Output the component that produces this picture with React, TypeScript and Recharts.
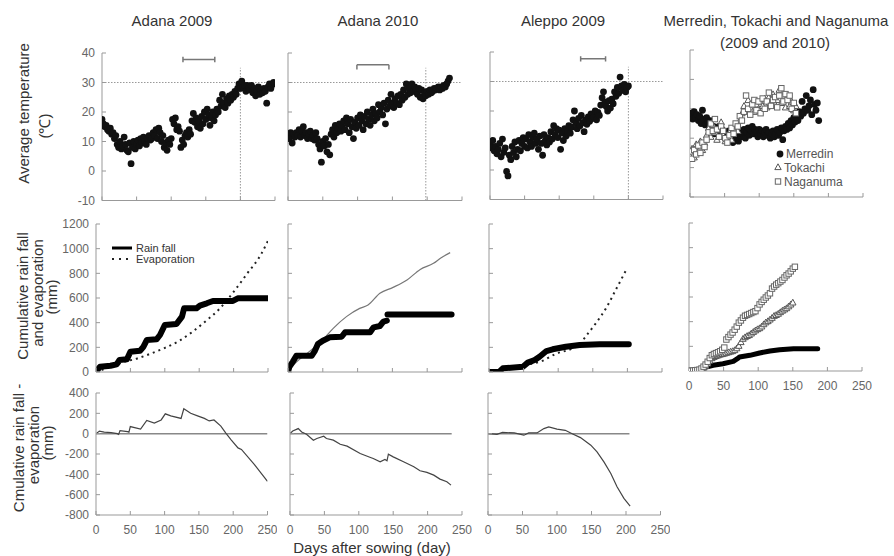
import React from 'react';
import { ComposedChart, Line, Scatter, XAxis, YAxis } from 'recharts';

const FONT = '"Liberation Sans", Arial, Helvetica, sans-serif';

// ---------- tick values ----------
const dayTicks = [0, 50, 100, 150, 200, 250];
const tempTicks = [-10, 0, 10, 20, 30, 40];
const cumTicks = [0, 200, 400, 600, 800, 1000, 1200];
const diffTicks = [-800, -600, -400, -200, 0, 200, 400];

// ---------- daily mean temperature, read every 2 days ----------
const TEMP_STEP = 2;
const adana2009Temp = [
  17.5, 16, 15, 15.5, 14, 13.5, 14.5, 12.5, 13, 11,
  12, 9, 8, 10, 7.5, 8.5, 11.5, 9, 7, 6.5,
  9.5, 2.5, 8, 10, 7.5, 9, 10.5, 8.5, 11, 9.5,
  11.5, 10, 9, 11, 12, 10.5, 11, 13, 12, 14,
  11, 14.5, 13, 10, 12, 8, 9.5, 7, 10.5, 9,
  11, 17.5, 16, 18, 14, 15, 13.5, 8, 10.5, 9,
  12, 13, 11.5, 14, 12.5, 17, 19.5, 16.5, 18, 15,
  17, 14.5, 18.5, 16, 20, 17.5, 21, 19, 15.5, 18,
  20, 17, 19, 21, 20, 24, 22, 26, 23, 21.5,
  24.5, 23, 25.5, 24, 26, 25, 27, 26, 28, 29.5,
  28, 30.5, 28.5, 29, 27, 29, 28, 27.5, 29, 26.5,
  28, 25.5, 27, 28.5, 26, 27.5, 26.5, 28, 27, 23,
  28.5, 29.5, 28, 29.5, 30, 29.5,
];
const adana2010Temp = [
  12, 11, 13, 9.5, 12.5, 11.5, 13, 12, 14, 11.5,
  13.5, 15, 12, 13, 11, 12.5, 13.5, 11, 12, 10.5,
  13, 11, 9, 7.5, 3, 10, 8.5, 11, 6.5, 9,
  5.5, 12.5, 14, 11.5, 15.5, 13, 14.5, 16, 13.5, 15,
  17, 14, 18, 16, 13, 17.5, 15, 11, 16.5, 14.5,
  18, 15.5, 19, 17, 14, 18.5, 16, 20, 17.5, 15.5,
  19, 21, 17, 19.5, 18, 22.5, 20, 21.5, 19, 23,
  16, 21, 24, 22, 26, 23, 21.5, 24.5, 23, 25.5,
  22.5, 26, 24, 27.5, 25, 29.5, 26, 28, 26.5, 29.5,
  27, 28.5, 27.5, 26, 28, 25, 27.5, 24.5, 26.5, 25.5,
  27, 26, 27.5, 26.5, 27, 28, 27.5, 28, 28.5, 27.5,
  28.5, 28, 29, 28.5, 29.5, 30.5, 31.5,
];
const aleppo2009Temp = [
  9, 7.5, 10, 6.5, 8, 5.5, 7, 9, 4.5, 10.5,
  6, 7.5, -0.5, -2, 5, 3.5, 8, 6, 9.5, 4.5,
  7, 10, 6.5, 9, 11, 8, 10.5, 7.5, 12, 9.5,
  8, 11, 12.5, 9, 10.5, 7, 11.5, 9, 5, 12,
  10, 8.5, 11, 9.5, 13, 10.5, 15, 12, 14, 11,
  13.5, 7, 12.5, 10, 14, 11.5, 13, 15, 12.5, 14.5,
  17, 20, 16, 14, 17.5, 15, 18.5, 16, 13, 17,
  15.5, 18, 16.5, 19, 17.5, 18, 20, 17, 19.5, 18.5,
  22, 24.5, 26.5, 23, 21.5, 20, 23.5, 21, 24, 22.5,
  26.5, 25, 28, 26, 31.5, 28.5, 27, 29, 26.5, 28,
  28.5,
];
const merredinTemp = [
  17.5, 18.5, 16.5, 19, 17, 18, 16, 17.5, 15, 19.5,
  16.5, 14.5, 17, 15.5, 13, 16, 12.5, 14, 11.5, 13.5,
  12, 14, 11, 13, 10.5, 12, 11.5, 9.5, 12.5, 10,
  11, 8.5, 12, 10, 11.5, 9, 12.5, 10.5, 11.5, 13,
  10, 12, 13.5, 11, 12.5, 14, 11.5, 13, 12, 10.5,
  13, 11.5, 12.5, 10.5, 12, 13, 11, 12, 10, 11.5,
  12.5, 10.5, 11.5, 13, 11, 12, 13.5, 9.5, 12.5, 14,
  13, 15, 13.5, 16, 14.5, 17, 15.5, 18, 16, 19,
  17.5, 22.5, 18.5, 20, 24.5, 19.5, 21, 23, 18, 26.5,
  21.5, 19.5, 22, 16,
];
// read every 3 days
const JP_STEP = 3;
const tokachiTemp = [
  4, 6.5, 3.5, 8, 5.5, 9, 6, 8.5, 11, 13.5,
  10.5, 14.5, 12, 9.5, 13, 15.5, 11, 9, 10.5, 12,
  9.5, 13, 14.5, 12.5, 16, 18.5, 21, 19.5, 23, 20.5,
  22, 19, 21.5, 20, 22.5, 21, 23.5, 20.5, 24, 22,
  25, 21.5, 23, 26.5, 22, 24.5, 20.5, 23.5, 21, 22.5,
  19.5, 21,
];
const naganumaTemp = [
  5.5, 3, 6, 4.5, 7.5, 5, 8.5, 7, 9.5, 12,
  15, 12.5, 16.5, 13, 10.5, 14, 12.5, 10, 8.5, 11,
  13.5, 11.5, 15, 14, 17.5, 16, 19, 24.5, 20, 18,
  21.5, 23, 19.5, 22.5, 18.5, 23.5, 20, 22.5, 25.5, 21,
  23, 24, 20.5, 24.5, 27, 22.5, 25, 23, 24.5, 20,
  22, 18.5,
];

// ---------- cumulative rain fall / evaporation [day, mm] ----------
const adana2009Rain = [
  [0, 0], [4, 30], [6, 43], [21, 51], [30, 62], [34, 97], [45, 103], [50, 165], [64, 173],
  [69, 205], [74, 260], [88, 265], [93, 300], [100, 381], [117, 389], [125, 449], [128, 516],
  [146, 516], [151, 538], [161, 557], [170, 576], [199, 576], [206, 597], [250, 597],
];
const adana2009Evap = [
  [0, 0], [20, 40], [40, 80], [60, 110], [80, 150], [100, 195], [120, 250], [140, 325],
  [160, 415], [180, 515], [190, 580], [200, 650], [220, 800], [240, 955], [250, 1065],
];
const adana2010RainA = [
  [0, 0], [2, 43], [7, 84], [12, 132], [34, 132], [38, 165], [43, 227], [50, 254], [60, 281],
  [77, 286], [82, 322], [118, 322], [123, 362], [132, 373], [137, 408], [142, 416],
];
const adana2010RainB = [[143, 467], [235, 467]];
const adana2010Evap = [
  [0, 0], [12, 80], [25, 140], [34, 180], [43, 225], [50, 262], [65, 354], [84, 449],
  [103, 516], [115, 543], [132, 638], [151, 686], [171, 746], [190, 832], [209, 881],
  [219, 922], [233, 968],
];
const aleppo2009Rain = [
  [0, 0], [15, 3], [20, 30], [49, 43], [56, 76], [66, 97], [73, 124], [83, 170], [92, 184],
  [111, 205], [131, 219], [160, 225], [202, 226],
];
const aleppo2009Evap = [
  [0, 0], [20, 25], [40, 45], [60, 65], [77, 90], [96, 146], [120, 190], [131, 225],
  [140, 290], [155, 400], [170, 525], [184, 675], [199, 835],
];
const merredinCum = [
  [0, 0], [12, 2], [18, 10], [25, 32], [35, 46], [49, 59], [64, 78], [70, 100], [73, 113],
  [88, 127], [102, 146], [117, 162], [131, 173], [151, 181], [186, 181],
];
const naganumaCum = [
  0, 2, 4, 6, 8, 11, 20, 35, 52, 75,
  105, 128, 138, 145, 152, 160, 172, 190, 255, 275,
  295, 312, 335, 360, 392, 410, 432, 448, 455, 462,
  470, 478, 485, 510, 540, 560, 578, 596, 612, 630,
  668, 685, 700, 712, 725, 738, 758, 776, 790, 808,
  830, 845,
];
const tokachiCum = [
  0, 1, 3, 4, 5, 6, 14, 28, 42, 62,
  85, 105, 115, 122, 128, 134, 138, 142, 148, 153,
  158, 162, 170, 185, 205, 235, 262, 275, 285, 292,
  305, 318, 330, 340, 348, 362, 380, 395, 405, 418,
  432, 448, 455, 465, 478, 490, 500, 510, 525, 540,
  556,
];

// ---------- cumulative rain fall - evaporation [day, mm] ----------
const adana2009Diff = [
  [0, 0], [5, 25], [12, 15], [22, 10], [31, 0], [33, -8], [35, 30], [46, 20], [48, 15],
  [50, 70], [65, 45], [74, 130], [85, 105], [95, 135], [101, 195], [109, 175], [124, 150],
  [128, 245], [138, 200], [148, 175], [158, 150], [165, 125], [172, 135], [182, 75],
  [189, 7], [197, -60], [207, -140], [212, -155], [231, -305], [250, -470],
];
const adana2010Diff = [
  [0, 0], [4, 26], [12, 50], [17, 17], [24, -6], [34, -64], [39, -48], [49, -25], [53, -48],
  [63, -64], [73, -104], [83, -123], [102, -195], [117, -234], [121, -244], [131, -277],
  [138, -254], [141, -267], [143, -202], [150, -228], [165, -277], [180, -326], [189, -365],
  [199, -381], [209, -408], [218, -447], [228, -473], [234, -506],
];
const aleppo2009Diff = [
  [0, 0], [13, -7], [21, 13], [38, 7], [52, -15], [59, 7], [71, 7], [81, 50], [88, 66],
  [100, 44], [112, 33], [122, 0], [134, -39], [149, -113], [158, -179], [168, -277],
  [178, -391], [187, -522], [197, -637], [206, -712],
];

// ---------- annotations ----------
const zeroEnds = { adana2009: 250, adana2010: 235, aleppo2009: 205 };
const harvestDay = { adana2009: 200, adana2010: 198, aleppo2009: 200 };
const brackets = {
  adana2009: { from: 117, to: 163, y: 37.8 },
  adana2010: { from: 99, to: 145, y: 36 },
  aleppo2009: { from: 131, to: 167, y: 37.7 },
};

type Pt = { d: number; v: number };
const fromSeries = (vals: number[], step: number): Pt[] => vals.map((v, i) => ({ d: i * step, v }));
const fromPairs = (pairs: number[][]): Pt[] => pairs.map(([d, v]) => ({ d, v }));

const tickStyle = { fill: '#666', fontSize: 12, fontFamily: FONT };
const EmptyTick = () => <g />;

const BlackDot = (p: any) => <circle cx={p.cx} cy={p.cy} r={3.4} fill="#111" />;
const OpenSquare = (p: any) => (
  <rect x={p.cx - 2.7} y={p.cy - 2.7} width={5.4} height={5.4} fill="#fff" stroke="#666" strokeWidth={1} />
);
const OpenTri = (p: any) => (
  <path d={`M${p.cx},${p.cy - 3.2}L${p.cx + 3.2},${p.cy + 2.6}L${p.cx - 3.2},${p.cy + 2.6}Z`} fill="#fff" stroke="#555" strokeWidth={1} />
);

type Box = [number, number, number, number];

function Panel(props: {
  box: Box;
  yDomain: [number, number];
  yTicks: number[];
  yLabels?: boolean;
  xLabels?: boolean;
  children?: React.ReactNode;
}) {
  const [left, top, w, h] = props.box;
  return (
    <div style={{ position: 'absolute', left: left - 50, top: top - 10 }}>
      <ComposedChart width={w + 60} height={h + 40} margin={{ top: 10, right: 10, bottom: 0, left: 0 }}>
        <XAxis
          dataKey="d"
          type="number"
          domain={[0, 250]}
          ticks={dayTicks}
          interval={0}
          allowDataOverflow
          height={30}
          stroke="#999"
          tickLine={{ stroke: '#999' }}
          tickSize={-4}
          tickMargin={14}
          tick={props.xLabels ? tickStyle : EmptyTick}
        />
        <YAxis
          type="number"
          domain={props.yDomain}
          ticks={props.yTicks}
          interval={0}
          allowDataOverflow
          width={50}
          stroke="#999"
          tickLine={{ stroke: '#999' }}
          tickSize={-4}
          tickMargin={11}
          tick={props.yLabels ? tickStyle : EmptyTick}
        />
        {props.children}
      </ComposedChart>
    </div>
  );
}

function tempAnnotations(key: 'adana2009' | 'adana2010' | 'aleppo2009') {
  const b = brackets[key];
  const down = key === 'adana2010';
  const tk = down ? [b.y, b.y - 1.6] : [b.y + 0.9, b.y - 0.9];
  return [
    <Line key="h30" data={[{ d: 0, v: 30 }, { d: 250, v: 30 }]} dataKey="v" stroke="#999" strokeWidth={1} strokeDasharray="1.5 1.5" dot={false} isAnimationActive={false} />,
    <Line key="hv" data={[{ d: harvestDay[key], v: -10 }, { d: harvestDay[key], v: 35 }]} dataKey="v" stroke="#999" strokeWidth={1} strokeDasharray="1.5 1.5" dot={false} isAnimationActive={false} />,
    <Line key="br" data={[{ d: b.from, v: b.y }, { d: b.to, v: b.y }]} dataKey="v" stroke="#777" strokeWidth={1.5} dot={false} isAnimationActive={false} />,
    <Line key="br1" data={[{ d: b.from, v: tk[0] }, { d: b.from, v: tk[1] }]} dataKey="v" stroke="#777" strokeWidth={1.5} dot={false} isAnimationActive={false} />,
    <Line key="br2" data={[{ d: b.to, v: tk[0] }, { d: b.to, v: tk[1] }]} dataKey="v" stroke="#777" strokeWidth={1.5} dot={false} isAnimationActive={false} />,
  ];
}

const rainLine = (key: string, pairs: number[][]) => (
  <Line key={key} data={fromPairs(pairs)} dataKey="v" type="linear" stroke="#000" strokeWidth={6} strokeLinecap="round" strokeLinejoin="round" dot={false} isAnimationActive={false} />
);
const diffLines = (key: string, pairs: number[][], end: number) => [
  <Line key={key + 'z'} data={[{ d: 0, v: 0 }, { d: end, v: 0 }]} dataKey="v" stroke="#888" strokeWidth={1.5} dot={false} isAnimationActive={false} />,
  <Line key={key} data={fromPairs(pairs)} dataKey="v" type="linear" stroke="#444" strokeWidth={1.2} dot={false} isAnimationActive={false} />,
];

function Rot(p: { x: number; y: number; children: string }) {
  return (
    <text transform={`translate(${p.x},${p.y}) rotate(-90)`} textAnchor="middle" dominantBaseline="central" fontSize={15} fill="#333" fontFamily={FONT}>
      {p.children}
    </text>
  );
}

export default function App() {
  return (
    <div style={{ position: 'absolute', left: 0, top: 0, width: 894, height: 556, background: '#fff', overflow: 'hidden' }}>
      {/* Row 1: temperature */}
      <Panel box={[102, 52.5, 173, 147.5]} yDomain={[-10, 40]} yTicks={tempTicks} yLabels>
        {tempAnnotations('adana2009')}
        <Scatter data={fromSeries(adana2009Temp, TEMP_STEP)} dataKey="v" shape={BlackDot} isAnimationActive={false} />
      </Panel>
      <Panel box={[288, 52.5, 174, 147.5]} yDomain={[-10, 40]} yTicks={tempTicks}>
        {tempAnnotations('adana2010')}
        <Scatter data={fromSeries(adana2010Temp, TEMP_STEP)} dataKey="v" shape={BlackDot} isAnimationActive={false} />
      </Panel>
      <Panel box={[490, 52, 173, 147.5]} yDomain={[-10, 40]} yTicks={tempTicks}>
        {tempAnnotations('aleppo2009')}
        <Scatter data={fromSeries(aleppo2009Temp, TEMP_STEP)} dataKey="v" shape={BlackDot} isAnimationActive={false} />
      </Panel>
      <Panel box={[690, 49.5, 173, 147]} yDomain={[-10, 40]} yTicks={tempTicks}>
        <Scatter data={fromSeries(merredinTemp, TEMP_STEP)} dataKey="v" shape={BlackDot} isAnimationActive={false} />
        <Scatter data={fromSeries(tokachiTemp, JP_STEP)} dataKey="v" shape={OpenTri} isAnimationActive={false} />
        <Scatter data={fromSeries(naganumaTemp, JP_STEP)} dataKey="v" shape={OpenSquare} isAnimationActive={false} />
      </Panel>

      {/* Row 2: cumulative rain fall and evaporation */}
      <Panel box={[96, 224, 172, 148]} yDomain={[0, 1200]} yTicks={cumTicks} yLabels>
        <Line data={fromPairs(adana2009Evap)} dataKey="v" type="monotone" stroke="#222" strokeWidth={2} strokeDasharray="2 4" dot={false} isAnimationActive={false} />
        {rainLine('r', adana2009Rain)}
      </Panel>
      <Panel box={[288, 224, 174, 148]} yDomain={[0, 1200]} yTicks={cumTicks}>
        <Line data={fromPairs(adana2010Evap)} dataKey="v" type="monotone" stroke="#777" strokeWidth={1.2} dot={false} isAnimationActive={false} />
        {rainLine('ra', adana2010RainA)}
        {rainLine('rb', adana2010RainB)}
      </Panel>
      <Panel box={[489, 224, 173, 148]} yDomain={[0, 1200]} yTicks={cumTicks}>
        <Line data={fromPairs(aleppo2009Evap)} dataKey="v" type="monotone" stroke="#222" strokeWidth={2} strokeDasharray="2 4" dot={false} isAnimationActive={false} />
        {rainLine('r', aleppo2009Rain)}
      </Panel>
      <Panel box={[689, 222.7, 173, 148]} yDomain={[0, 1200]} yTicks={cumTicks} xLabels>
        <Line data={fromPairs(merredinCum)} dataKey="v" type="linear" stroke="#000" strokeWidth={5} strokeLinecap="round" strokeLinejoin="round" dot={false} isAnimationActive={false} />
        <Scatter data={fromSeries(tokachiCum, JP_STEP)} dataKey="v" shape={OpenTri} isAnimationActive={false} />
        <Scatter data={fromSeries(naganumaCum, JP_STEP)} dataKey="v" shape={OpenSquare} isAnimationActive={false} />
      </Panel>

      {/* Row 3: cumulative rain fall - evaporation */}
      <Panel box={[95.5, 393, 171.5, 122]} yDomain={[-800, 400]} yTicks={diffTicks} yLabels xLabels>
        {diffLines('d', adana2009Diff, zeroEnds.adana2009)}
      </Panel>
      <Panel box={[290, 393, 172, 122]} yDomain={[-800, 400]} yTicks={diffTicks} xLabels>
        {diffLines('d', adana2010Diff, zeroEnds.adana2010)}
      </Panel>
      <Panel box={[487.5, 393, 172.5, 122]} yDomain={[-800, 400]} yTicks={diffTicks} xLabels>
        {diffLines('d', aleppo2009Diff, zeroEnds.aleppo2009)}
      </Panel>

      {/* Text overlay */}
      <svg width={894} height={556} style={{ position: 'absolute', left: 0, top: 0, pointerEvents: 'none' }}>
        <g fontFamily={FONT} fontSize={15} fill="#333" textAnchor="middle">
          <text x={172} y={26}>Adana 2009</text>
          <text x={378} y={26}>Adana 2010</text>
          <text x={563} y={26}>Aleppo 2009</text>
          <text x={776} y={25.5}>Merredin, Tokachi and Naganuma</text>
          <text x={775} y={48}>(2009 and 2010)</text>
          <text x={372} y={553}>Days after sowing (day)</text>
        </g>
        <Rot x={23} y={113.5}>Average temperature</Rot>
        <Rot x={44} y={126}>(℃)</Rot>
        <Rot x={22} y={296}>Cumulative rain fall</Rot>
        <Rot x={37} y={293}>and evaporation</Rot>
        <Rot x={51} y={297}>(mm)</Rot>
        <Rot x={18} y={448}>Cmulative rain fall -</Rot>
        <Rot x={33} y={445}>evaporation</Rot>
        <Rot x={47} y={443}>(mm)</Rot>

        {/* rain / evaporation legend */}
        <line x1={112} y1={248} x2={132} y2={248} stroke="#000" strokeWidth={3} />
        <line x1={112} y1={259} x2={133} y2={259} stroke="#222" strokeWidth={2} strokeDasharray="2 5" />
        <g fontFamily={FONT} fontSize={11} fill="#333">
          <text x={136} y={252}>Rain fall</text>
          <text x={136} y={263}>Evaporation</text>
        </g>

        {/* site legend */}
        <circle cx={780} cy={154} r={3.4} fill="#111" />
        <OpenTri cx={778} cy={167} />
        <OpenSquare cx={778} cy={181.5} />
        <g fontFamily={FONT} fontSize={12} fill="#555">
          <text x={786} y={158}>Merredin</text>
          <text x={784} y={171.5}>Tokachi</text>
          <text x={784} y={186}>Naganuma</text>
        </g>
      </svg>
    </div>
  );
}
